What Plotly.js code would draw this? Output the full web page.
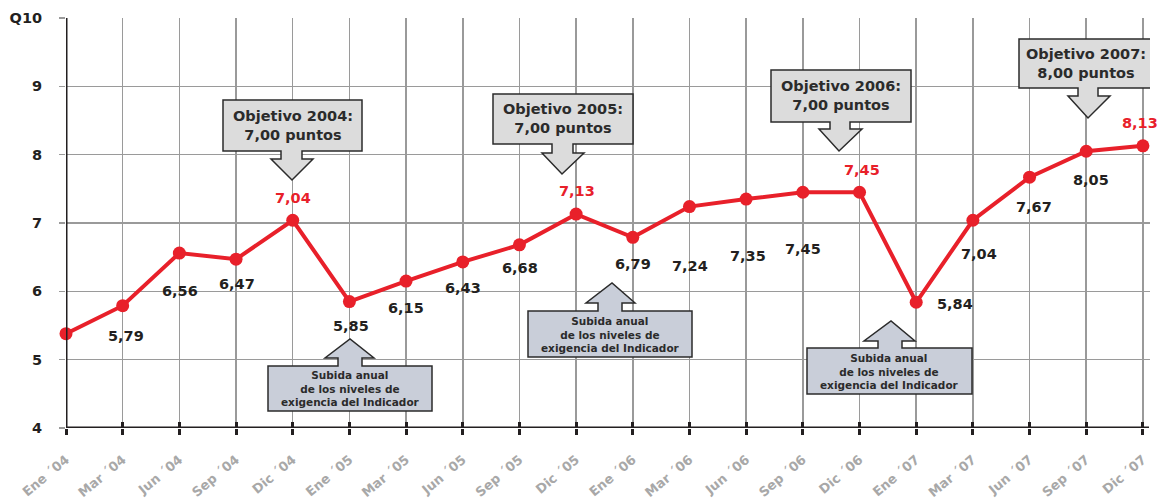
<!DOCTYPE html>
<html>
<head>
<meta charset="utf-8">
<script src="https://cdn.plot.ly/plotly-3.0.1.min.js"></script>
<style>html,body{margin:0;padding:0;background:#fff;}#chart{width:1158px;height:502px;}</style>
</head>
<body>
<div id="chart"></div>
<script>
// ---- data ----
const categories = ["Ene ´04","Mar ´04","Jun ´04","Sep ´04","Dic ´04","Ene ´05","Mar ´05","Jun ´05","Sep ´05","Dic ´05","Ene ´06","Mar ´06","Jun ´06","Sep ´06","Dic ´06","Ene ´07","Mar ´07","Jun ´07","Sep ´07","Dic ´07"];
const values = [5.38,5.79,6.56,6.47,7.04,5.85,6.15,6.43,6.68,7.13,6.79,7.24,7.35,7.45,7.45,5.84,7.04,7.67,8.05,8.13];
const showLabel = [false,true,true,true,true,true,true,true,true,true,true,true,true,true,true,true,true,true,true,true];
const highlighted = [4,9,14,19];
const yTickVals = [4,5,6,7,8,9,10];
const yTickText = ["4","5","6","7","8","9","Q10"];
const objetivoTexts = ["Objetivo 2004:<br>7,00 puntos","Objetivo 2005:<br>7,00 puntos","Objetivo 2006:<br>7,00 puntos","Objetivo 2007:<br>8,00 puntos"];
const subidaText = "Subida anual<br>de los niveles de<br>exigencia del Indicador";

// ---- label offsets (pixels) ----
const labelDX = [0,3,1,1,0,2,0,0,1,1,0,1,2,0,2,39,6,4,5,-3];
const labelDY = [0,-30,-38,-25,22,-24,-27,-26,-23,23,-27,-59,-57,-57,22,-2,-34,-30,-29,23];

// ---- geometry helpers (pixel -> data) ----
const L = 66, T = 18, XU = 56.68, YU = 68.33;
const X = p => (p - L) / XU;
const Y = p => 4 + (428 - p) / YU;
const P = (x, y) => X(x).toFixed(4) + "," + Y(y).toFixed(4);

function downCallout(l, r, t, b, sl, sr, ht, hl, hr, tx, ty) {
  return "M" + P(l,t) + " L" + P(r,t) + " L" + P(r,b) + " L" + P(sr,b) + " L" + P(sr,ht) +
         " L" + P(hr,ht) + " L" + P(tx,ty) + " L" + P(hl,ht) + " L" + P(sl,ht) + " L" + P(sl,b) + " L" + P(l,b) + " Z";
}
function upCallout(l, r, t, b, sl, sr, hb, hl, hr, tx, ty) {
  return "M" + P(l,b) + " L" + P(l,t) + " L" + P(sl,t) + " L" + P(sl,hb) + " L" + P(hl,hb) +
         " L" + P(tx,ty) + " L" + P(hr,hb) + " L" + P(sr,hb) + " L" + P(sr,t) + " L" + P(r,t) + " L" + P(r,b) + " Z";
}

const FONT = "DejaVu Sans, sans-serif";
const RED = "#e8202a";
const DARK = "#231f20";

const downBoxes = [
  [223,362,100,151,281,302,159,271,313,292,180],
  [493,633,94,144,552,573,153,542,584,562,174],
  [771,911,70,122,830,850,129,819,862,839,151],
  [1019,1152,39,88,1078,1098,96,1068,1110,1088,118]
];
const upBoxes = [
  [268,432,366,411,338,362,358,325,374,350,339],
  [528,692,311,357,598,622,303,586,635,612,283],
  [807,972,348,394,878,902,341,864,915,891,321]
];

const shapes = [];
const annotations = [];
downBoxes.forEach((b, k) => {
  shapes.push({type:"path", xref:"x", yref:"y", layer:"above", path: downCallout(...b),
    fillcolor:"#dcdcdc", line:{color:"#2b2b2b", width:1.5}});
  annotations.push({xref:"x", yref:"y", x: X((b[0]+b[1])/2), y: Y((b[2]+b[3])/2), text: objetivoTexts[k],
    showarrow:false, font:{family:FONT, size:14.5, color:"#2b2b2b", weight:"bold"}, align:"center"});
});
upBoxes.forEach(b => {
  shapes.push({type:"path", xref:"x", yref:"y", layer:"above", path: upCallout(...b),
    fillcolor:"#c9ced9", line:{color:"#2b2b2b", width:1.5}});
  annotations.push({xref:"x", yref:"y", x: X((b[0]+b[1])/2), y: Y((b[2]+b[3])/2), text: subidaText,
    showarrow:false, font:{family:FONT, size:10.5, color:"#2b2b2b", weight:"bold"}, align:"center"});
});

// axis lines as shapes (extend slightly beyond)
shapes.push({type:"line", xref:"x", yref:"y", x0:X(66), x1:X(66), y0:4, y1:Y(10), line:{color:DARK, width:3}, layer:"above"});
shapes.push({type:"line", xref:"x", yref:"y", x0:X(60), x1:X(1149), y0:4, y1:4, line:{color:DARK, width:3}, layer:"above"});

values.forEach((v, i) => {
  if (!showLabel[i]) return;
  const hi = highlighted.includes(i);
  annotations.push({xref:"x", yref:"y", x:i, y:v, text: v.toFixed(2).replace(".", ","),
    showarrow:false, xshift: labelDX[i], yshift: labelDY[i],
    font:{family:FONT, size:14.5, color: hi ? RED : DARK, weight:"bold"}});
});

const xIdx = categories.map((c, i) => i);
const trace = {
  x: xIdx, y: values, type:"scatter", mode:"lines+markers",
  line:{color:RED, width:4}, marker:{color:RED, size:13}, cliponaxis:false, hoverinfo:"skip"
};
// invisible helper trace on the overlay axis (for inward tick marks)
const helper = {x:[0], y:[4], xaxis:"x2", yaxis:"y", type:"scatter", mode:"markers",
  marker:{opacity:0}, hoverinfo:"skip"};

const layout = {
  width:1158, height:502,
  margin:{l:L, r:8, t:T, b:74},
  paper_bgcolor:"#fff", plot_bgcolor:"#fff",
  showlegend:false,
  xaxis:{range:[0, 1084/XU], tickvals: xIdx, ticktext: categories,
    tickangle:-40, ticks:"outside", ticklen:6, tickwidth:3, tickcolor:DARK, ticklabelstandoff:12,
    showgrid:true, gridcolor:"#9a9a9a", gridwidth:1.5, zeroline:false, showline:false,
    tickfont:{family:FONT, size:13, color:"#a8a8a8", weight:"bold"}, fixedrange:true},
  xaxis2:{range:[0, 1084/XU], tickvals: xIdx, overlaying:"x", anchor:"y", side:"bottom",
    ticks:"inside", ticklen:6, tickwidth:3, tickcolor:DARK, showticklabels:false,
    showgrid:false, zeroline:false, showline:false, fixedrange:true},
  yaxis:{range:[4,10], tickvals:yTickVals, ticktext:yTickText,
    ticks:"outside", ticklen:6, tickwidth:1.5, tickcolor:"#9a9a9a", ticklabelstandoff:14,
    showgrid:true, gridcolor:"#9a9a9a", gridwidth:1.5, zeroline:false, showline:false,
    tickfont:{family:FONT, size:14.5, color:DARK, weight:"bold"}, fixedrange:true},
  shapes, annotations
};

Plotly.newPlot("chart", [helper, trace], layout, {displayModeBar:false, staticPlot:true});
</script>
</body>
</html>
